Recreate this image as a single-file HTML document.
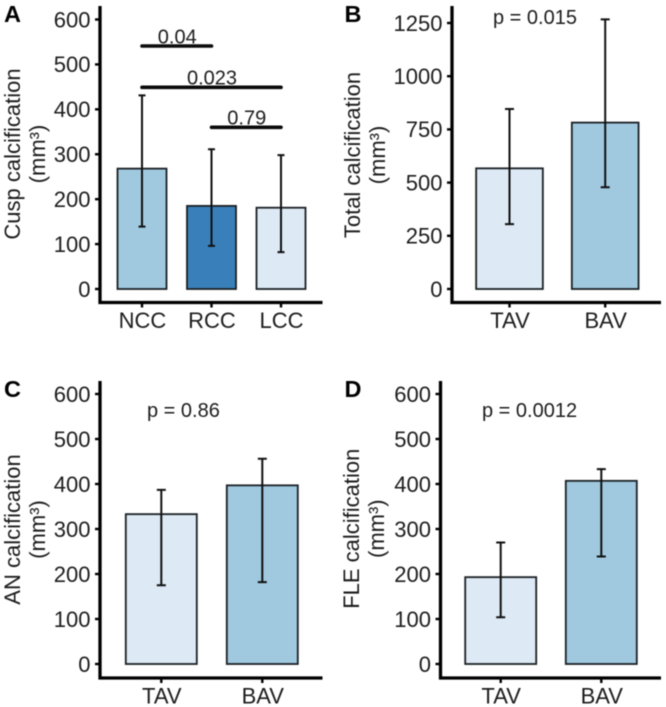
<!DOCTYPE html>
<html>
<head>
<meta charset="utf-8">
<title>Calcification bar charts</title>
<style>
html,body{margin:0;padding:0;background:#fff;width:666px;height:707px;overflow:hidden}
svg{display:block;filter:blur(0.4px)}
text{font-family:"Liberation Sans",sans-serif;fill:#1c1c1c}
</style>
</head>
<body>
<svg id="figure" width="666" height="707" viewBox="0 0 666 707" xmlns="http://www.w3.org/2000/svg"></svg>
<script>
// Panel A data
const aCategories = ['NCC', 'RCC', 'LCC'];
const aMeans = [268, 185, 181];
const aLower = [139, 96, 82];
const aUpper = [431, 311, 298];
const aTicks = [0, 100, 200, 300, 400, 500, 600];
const aBracketLabels = ['0.04', '0.023', '0.79'];
const aBracketFrom = [0, 0, 1];
const aBracketTo = [1, 2, 2];
const aBracketValues = [541, 449, 360];

// Panel B data
const bCategories = ['TAV', 'BAV'];
const bMeans = [567, 782];
const bLower = [305, 478];
const bUpper = [846, 1267];
const bTicks = [0, 250, 500, 750, 1000, 1250];

// Panel C data
const cCategories = ['TAV', 'BAV'];
const cMeans = [333, 397];
const cLower = [175, 182];
const cUpper = [387, 456];
const cTicks = [0, 100, 200, 300, 400, 500, 600];

// Panel D data
const dCategories = ['TAV', 'BAV'];
const dMeans = [193, 407];
const dLower = [104, 239];
const dUpper = [270, 433];
const dTicks = [0, 100, 200, 300, 400, 500, 600];

const NS = 'http://www.w3.org/2000/svg';
const figure = document.getElementById('figure');
const INK = '#101010';
const LIGHT = '#dde9f5';
const MID = '#a0c9e0';
const DARK = '#3980bb';

function make(parent, tag, attrs, content) {
  const el = document.createElementNS(NS, tag);
  for (const key in attrs) el.setAttribute(key, attrs[key]);
  if (content !== undefined) el.textContent = content;
  parent.appendChild(el);
  return el;
}

function drawPanel(p) {
  const g = make(figure, 'g', {});
  
  

  const maxTick = p.ticks[p.ticks.length - 1];
  const yScale = function (v) { return p.y0 - v * (p.y0 - p.yMax) / maxTick; };
  const xScale = function (i) { return p.xFirst + i * p.xStep; };

  const letter = make(g, 'text', {x: p.letterX, y: p.letterY, 'font-size': 23.5, 'font-weight': 'bold', style: 'fill:#000'}, p.letter);
  
  

  // bars
  p.means.forEach(function (v, i) {
    const bar = make(g, 'rect', {
      x: xScale(i) - p.barW / 2 + p.barShift, y: yScale(v),
      width: p.barW, height: Math.max(0, yScale(0) - yScale(v)),
      fill: p.fills[i], stroke: '#1a2024', 'stroke-width': 1.8
    });
    
    
  });

  // error bars
  p.means.forEach(function (v, i) {
    const x = xScale(i);
    const err = make(g, 'path', {
      d: 'M' + x + ' ' + yScale(p.lower[i]) + 'V' + yScale(p.upper[i]) +
         'M' + (x - p.cap) + ' ' + yScale(p.upper[i]) + 'H' + (x + p.cap) +
         'M' + (x - p.cap) + ' ' + yScale(p.lower[i]) + 'H' + (x + p.cap),
      fill: 'none', stroke: INK, 'stroke-width': 2
    });
    
    
  });

  // axes
  const axis = make(g, 'path', {
    d: 'M' + p.axisX + ' ' + p.axisTop + 'V' + p.axisBottom + 'H' + p.axisRight,
    fill: 'none', stroke: '#000', 'stroke-width': 3.3
  });
  
  

  // y ticks
  p.ticks.forEach(function (t) {
    const mark = make(g, 'line', {x1: p.axisX - 5, x2: p.axisX, y1: yScale(t), y2: yScale(t), stroke: '#000', 'stroke-width': 2.4});
    
    
    const label = make(g, 'text', {x: p.axisX - 9.5, y: yScale(t) + 7.8, 'font-size': 22, 'text-anchor': 'end'}, String(t));
    
    
  });

  // x ticks
  p.categories.forEach(function (c, i) {
    const mark = make(g, 'line', {x1: xScale(i), x2: xScale(i), y1: p.axisBottom, y2: p.axisBottom + 5, stroke: '#000', 'stroke-width': 2.4});
    
    
    const label = make(g, 'text', {x: xScale(i) + 0.5, y: p.axisBottom + 25.5, 'font-size': 22, 'text-anchor': 'middle'}, c);
    
    
  });

  // y title
  const t1 = make(g, 'text', {transform: 'translate(' + p.titleX + ' ' + p.titleY + ') rotate(-90)', 'font-size': 22, 'text-anchor': 'middle'}, p.title);
  
  
  const t2 = make(g, 'text', {transform: 'translate(' + (p.titleX + 25) + ' ' + p.titleY + ') rotate(-90)', 'font-size': 22, 'text-anchor': 'middle'}, '(mm³)');
  
  

  if (p.pText) {
    const pv = make(g, 'text', {x: p.pX, y: p.pY, 'font-size': 20}, p.pText);
    
    
  }

  return {g: g, xScale: xScale, yScale: yScale};
}

const panelA = drawPanel({
  letter: 'A', letterX: 4, letterY: 22,
  categories: aCategories, means: aMeans, lower: aLower, upper: aUpper, ticks: aTicks,
  fills: [MID, DARK, LIGHT],
  axisX: 100, axisTop: 6, axisBottom: 302.5, axisRight: 322.5,
  y0: 289, yMax: 19.5, xFirst: 142, xStep: 69.5, barW: 49, barShift: 0, cap: 3.5,
  title: 'Cusp calcification', titleX: 20, titleY: 154
});

aBracketLabels.forEach(function (label, i) {
  const y = panelA.yScale(aBracketValues[i]);
  const x1 = panelA.xScale(aBracketFrom[i]);
  const x2 = panelA.xScale(aBracketTo[i]);
  const line = make(panelA.g, 'line', {x1: x1, x2: x2, y1: y, y2: y, stroke: '#0a0a0a', 'stroke-width': 3.6, 'stroke-linecap': 'round'});
  
  
  const text = make(panelA.g, 'text', {x: (x1 + x2) / 2 + 0.5, y: y - 2.6, 'font-size': 20, 'text-anchor': 'middle'}, label);
  
  
});

drawPanel({
  letter: 'B', letterX: 344.5, letterY: 22,
  categories: bCategories, means: bMeans, lower: bLower, upper: bUpper, ticks: bTicks,
  fills: [LIGHT, MID],
  axisX: 452, axisTop: 6, axisBottom: 302.5, axisRight: 661,
  y0: 289, yMax: 23, xFirst: 509.5, xStep: 95.7, barW: 66.7, barShift: 0, cap: 4.5,
  title: 'Total calcification', titleX: 360, titleY: 155,
  pText: 'p = 0.015', pX: 493, pY: 24
});

drawPanel({
  letter: 'C', letterX: 4, letterY: 397,
  categories: cCategories, means: cMeans, lower: cLower, upper: cUpper, ticks: cTicks,
  fills: [LIGHT, MID],
  axisX: 100, axisTop: 381, axisBottom: 678, axisRight: 322.5,
  y0: 664, yMax: 394, xFirst: 161.3, xStep: 101, barW: 71, barShift: 0, cap: 4.5,
  title: 'AN calcification', titleX: 20, titleY: 529.5,
  pText: 'p = 0.86', pX: 147, pY: 417
});

drawPanel({
  letter: 'D', letterX: 344.5, letterY: 397,
  categories: dCategories, means: dMeans, lower: dLower, upper: dUpper, ticks: dTicks,
  fills: [LIGHT, MID],
  axisX: 440.5, axisTop: 381, axisBottom: 678, axisRight: 661,
  y0: 664, yMax: 394, xFirst: 500.7, xStep: 100.6, barW: 71, barShift: 0, cap: 4.5,
  title: 'FLE calcification', titleX: 359, titleY: 528.7,
  pText: 'p = 0.0012', pX: 482, pY: 417
});
</script>
</body>
</html>
